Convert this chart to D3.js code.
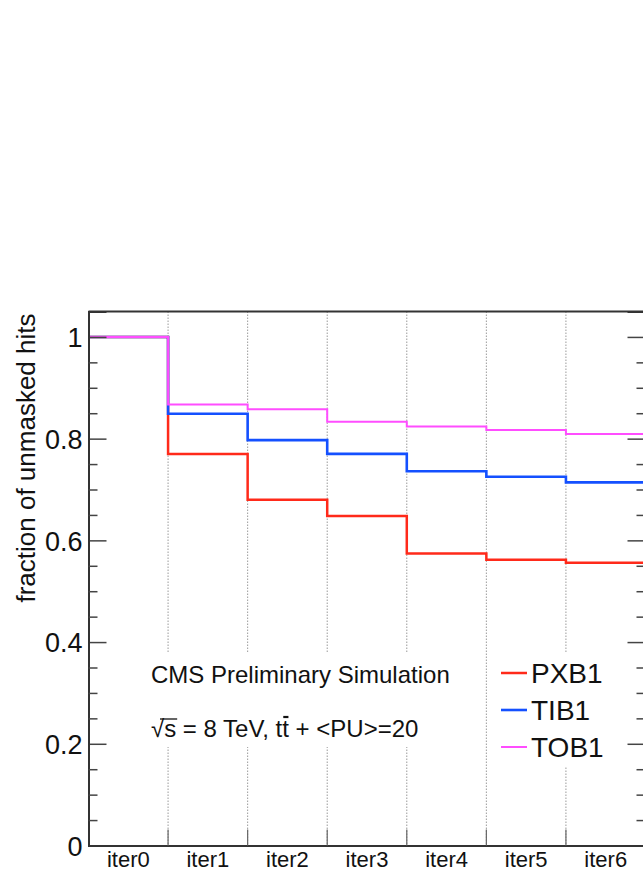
<!DOCTYPE html>
<html>
<head>
<meta charset="utf-8">
<script src="https://cdn.jsdelivr.net/npm/d3@7"></script>
<style>
  html, body { margin: 0; padding: 0; background: #fff; }
  svg { display: block; font-family: "Liberation Sans", Arial, Helvetica, sans-serif; }
</style>
</head>
<body>
<svg id="chart" width="643" height="872"></svg>
<script>
// Iteration steps of the tracking sequence
const categories = ["iter0", "iter1", "iter2", "iter3", "iter4", "iter5", "iter6"];

// Fraction of unmasked hits per layer after each iteration
const pxb1 = [1.000, 0.770, 0.680, 0.648, 0.574, 0.562, 0.556];
const tib1 = [1.000, 0.849, 0.797, 0.770, 0.736, 0.725, 0.714];
const tob1 = [1.000, 0.867, 0.858, 0.833, 0.824, 0.817, 0.809];

const seriesNames = ["PXB1", "TIB1", "TOB1"];
const seriesColors = ["#ff2a1a", "#1450ff", "#ff4dff"];
const seriesWidths = [2.5, 2.6, 2];

const yMajorTicks = [0, 0.2, 0.4, 0.6, 0.8, 1];
const yTickLabels = ["0", "0.2", "0.4", "0.6", "0.8", "1"];
const yMinorTicks = d3.range(0, 21).map(i => i * 0.05).filter(v => Math.abs(v * 5 - Math.round(v * 5)) > 1e-6);

const frame = { left: 88.5, right: 645.5, top: 311.5, bottom: 845.5 };

const svg = d3.select("#chart");

const x = d3.scaleBand().domain(categories).range([frame.left, frame.right]).paddingInner(0).paddingOuter(0);
const y = d3.scaleLinear().domain([0, 1.05]).range([frame.bottom, frame.top]);
const edges = categories.map(c => x(c)).concat([frame.right]);

// vertical dotted grid at the iteration boundaries
svg.append("g").selectAll("line").data(edges.slice(1, -1)).join("line")
  .attr("x1", d => d).attr("x2", d => d)
  .attr("y1", frame.top).attr("y2", frame.bottom)
  .attr("stroke", "#9a9a9a").attr("stroke-width", 1)
  .attr("stroke-dasharray", "1.5,1.5");

// step histograms, drawn so that TOB1 ends up on top
const stepLine = d3.line().x(d => d[0]).y(d => d[1]).curve(d3.curveStepAfter);
const allSeries = [pxb1, tib1, tob1];
allSeries.forEach((vals, i) => {
  const pts = vals.map((v, k) => [x(categories[k]), y(v)]);
  pts.push([frame.right, y(vals[vals.length - 1])]);
  svg.append("path")
    .attr("d", stepLine(pts))
    .attr("fill", "none")
    .attr("stroke", seriesColors[i])
    .attr("stroke-width", seriesWidths[i])
    .attr("stroke-linejoin", "miter");
});

// white panes behind the caption and the legend
svg.append("rect").attr("x", 140).attr("y", 653).attr("width", 330).attr("height", 94).attr("fill", "#fff");
svg.append("rect").attr("x", 495).attr("y", 653).attr("width", 130).attr("height", 113).attr("fill", "#fff");

// y axis (left): ticks point into the frame
const yAxisMajor = d3.axisLeft(y).tickValues(yMajorTicks).tickSize(-18).tickPadding(6)
  .tickFormat((d, i) => yTickLabels[i]);
const yAxisMinor = d3.axisLeft(y).tickValues(yMinorTicks).tickSize(-9).tickFormat("");
const gyL = svg.append("g").attr("transform", `translate(${frame.left},0)`).call(yAxisMajor);
svg.append("g").attr("transform", `translate(${frame.left},0)`).call(yAxisMinor);
gyL.selectAll("text").attr("font-size", 27).attr("fill", "#111").attr("dy", "0.36em");

// y axis (right) mirror ticks
const yAxisRMajor = d3.axisRight(y).tickValues(yMajorTicks).tickSize(-18).tickFormat("");
const yAxisRMinor = d3.axisRight(y).tickValues(yMinorTicks).tickSize(-9).tickFormat("");
svg.append("g").attr("transform", `translate(${frame.right},0)`).call(yAxisRMajor);
svg.append("g").attr("transform", `translate(${frame.right},0)`).call(yAxisRMinor);

// x axis with labels centred in each iteration bin
const xAxis = d3.axisBottom(x).tickSize(0).tickPadding(6);
const gx = svg.append("g").attr("transform", `translate(0,${frame.bottom})`).call(xAxis);
gx.selectAll("text").attr("font-size", 22).attr("fill", "#111");

// short ticks on the bin boundaries
svg.append("g").selectAll("line").data(edges.slice(1, -1)).join("line")
  .attr("x1", d => d).attr("x2", d => d)
  .attr("y1", frame.bottom).attr("y2", frame.bottom - 16)
  .attr("stroke", "#666").attr("stroke-width", 1.2);

// style the axis lines and ticks
svg.selectAll(".domain").attr("stroke", "#333").attr("stroke-width", 2);
svg.selectAll(".tick line").attr("stroke", "#444").attr("stroke-width", 1.5);

// top frame line
svg.append("line").attr("x1", frame.left).attr("x2", frame.right)
  .attr("y1", frame.top).attr("y2", frame.top)
  .attr("stroke", "#333").attr("stroke-width", 2);

// y axis title
svg.append("text")
  .attr("transform", `translate(35,${frame.top + 2}) rotate(-90)`)
  .attr("text-anchor", "end")
  .attr("font-size", 26)
  .attr("fill", "#111")
  .text("fraction of unmasked hits");

// caption
svg.append("text").attr("x", 151).attr("y", 683).attr("font-size", 24).attr("fill", "#111")
  .text("CMS Preliminary Simulation");

const capBase = 737;
const cap2 = svg.append("text").attr("x", 151).attr("y", capBase).attr("font-size", 24).attr("fill", "#111");
cap2.append("tspan").text("√");
cap2.append("tspan").text("s");
cap2.append("tspan").text(" = 8 TeV, t");
cap2.append("tspan").text("t");
cap2.append("tspan").text(" + <PU>=20");

// overlines for the radical and the anti-top
const node2 = cap2.node();
const txt = node2.textContent;
const sIdx = txt.indexOf("s");
const tbIdx = txt.indexOf("tt") + 1;
const rStart = node2.getStartPositionOfChar(0);
const sEnd = node2.getEndPositionOfChar(sIdx);
svg.append("line").attr("x1", rStart.x + 9).attr("x2", sEnd.x + 1)
  .attr("y1", capBase - 18).attr("y2", capBase - 18).attr("stroke", "#111").attr("stroke-width", 1.3);
const tb0 = node2.getStartPositionOfChar(tbIdx), tb1 = node2.getEndPositionOfChar(tbIdx);
svg.append("line").attr("x1", tb0.x + 1).attr("x2", tb1.x - 0.5)
  .attr("y1", capBase - 20).attr("y2", capBase - 20).attr("stroke", "#111").attr("stroke-width", 2.2);

// legend
const legendY = [673, 710, 747];
seriesNames.forEach((name, i) => {
  svg.append("line").attr("x1", 501).attr("x2", 527)
    .attr("y1", legendY[i]).attr("y2", legendY[i])
    .attr("stroke", seriesColors[i]).attr("stroke-width", seriesWidths[i]);
  svg.append("text").attr("x", 531).attr("y", legendY[i] + 10)
    .attr("font-size", 28).attr("fill", "#111").text(name);
});
</script>
</body>
</html>
